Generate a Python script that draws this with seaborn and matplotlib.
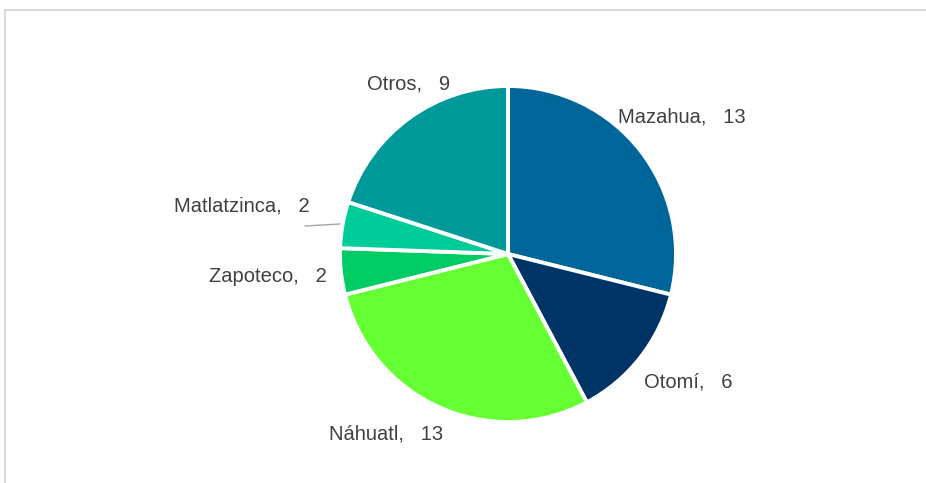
# pastel de lenguas indigenas
import matplotlib
matplotlib.use("Agg")
import matplotlib.pyplot as plt
import seaborn as sns

# datos
lenguas = ["Mazahua", "Otomí", "Náhuatl", "Zapoteco", "Matlatzinca", "Otros"]
valores = [13, 6, 13, 2, 2, 9]
colores = ["#006699", "#003366", "#66FF33", "#00CC66", "#00CC99", "#009999"]

# posiciones de las etiquetas (pixeles, origen arriba a la izquierda)
pos_etiquetas = [(682, 117), (688, 382), (386, 434), (268, 276), (242, 206), (409, 84)]

sns.set_theme(style="white")
plt.rcParams['font.family'] = ['Liberation Sans', 'DejaVu Sans']

fig = plt.figure(figsize=(9.26, 4.83), dpi=100)
ax = fig.add_axes([0, 0, 1, 1])

ax.pie(valores, colors=sns.color_palette(colores), startangle=90, counterclock=False,
       center=(508, 483 - 254), radius=168,
       wedgeprops=dict(edgecolor="white", linewidth=2.8))

# pie cambia los limites, se ponen despues
ax.set_xlim(0, 926)
ax.set_ylim(0, 483)
ax.set_aspect("equal")
ax.axis("off")

# marco gris del grafico (como en excel)
ax.plot([4.5, 4.5, 926], [0, 483 - 9.5, 483 - 9.5], color="#d9d9d9", lw=1.5)

for nombre, v, (x, y) in zip(lenguas, valores, pos_etiquetas):
    ax.text(x, 483 - y, f"{nombre},   {v}", ha="center", va="center",
            fontsize=14.5, color="#404040")

# linea guia de Matlatzinca
ax.plot([305, 340], [483 - 226, 483 - 224], color="#a6a6a6", lw=1)

fig.savefig("out.png", dpi=100)
